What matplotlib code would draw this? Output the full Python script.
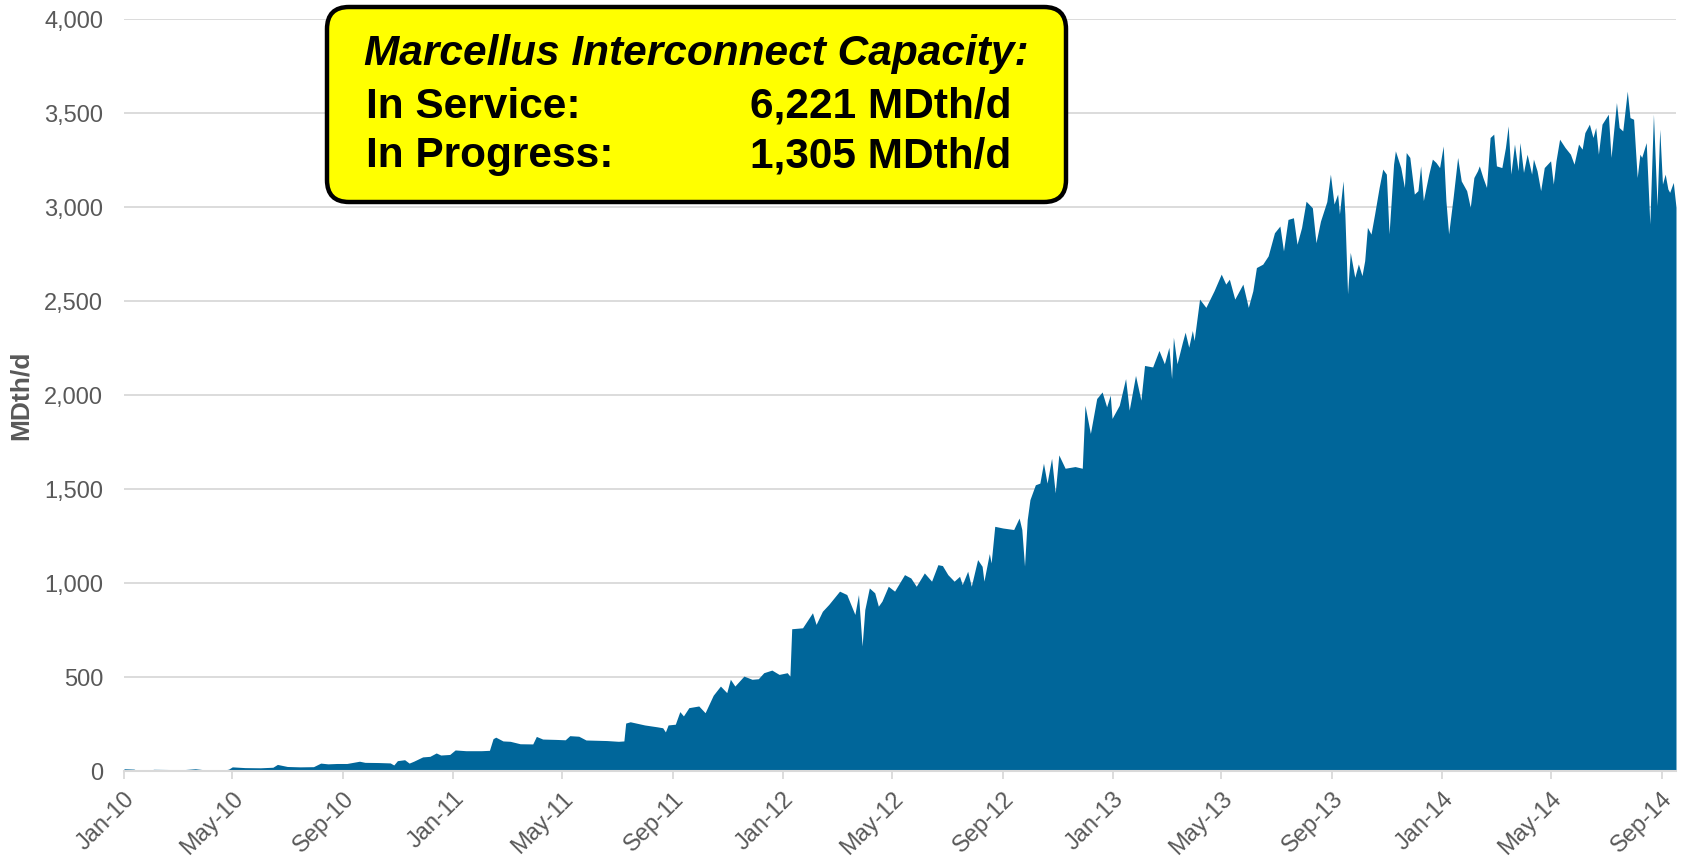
import matplotlib
matplotlib.use("Agg")
import matplotlib.pyplot as plt
import matplotlib.dates as mdates
from matplotlib.patches import FancyBboxPatch
from matplotlib.transforms import IdentityTransform
from matplotlib.ticker import FuncFormatter
import pandas as pd

plt.rcParams['font.family'] = ['Liberation Sans', 'DejaVu Sans']

dates = [
    "2010-01-01", "2010-01-12", "2010-01-16", "2010-01-28", "2010-02-03", "2010-02-20", "2010-03-10",
    "2010-03-21", "2010-04-01", "2010-04-10", "2010-04-20", "2010-04-27", "2010-05-01", "2010-05-15",
    "2010-06-01", "2010-06-15", "2010-06-20", "2010-07-01", "2010-07-15", "2010-07-30", "2010-08-07",
    "2010-08-15", "2010-08-25", "2010-09-05", "2010-09-19", "2010-09-25", "2010-10-10", "2010-10-23",
    "2010-10-27", "2010-10-31", "2010-11-08", "2010-11-13", "2010-11-18", "2010-11-28", "2010-12-06",
    "2010-12-13", "2010-12-18", "2010-12-28", "2011-01-03", "2011-01-15", "2011-02-01", "2011-02-10",
    "2011-02-14", "2011-02-17", "2011-02-25", "2011-03-05", "2011-03-16", "2011-03-30", "2011-04-03",
    "2011-04-10", "2011-04-25", "2011-05-05", "2011-05-10", "2011-05-20", "2011-05-28", "2011-06-20",
    "2011-07-03", "2011-07-09", "2011-07-11", "2011-07-16", "2011-08-01", "2011-08-15", "2011-08-21",
    "2011-08-24", "2011-08-27", "2011-09-04", "2011-09-09", "2011-09-13", "2011-09-19", "2011-09-30",
    "2011-10-07", "2011-10-16", "2011-10-24", "2011-10-31", "2011-11-04", "2011-11-09", "2011-11-19",
    "2011-11-28", "2011-12-05", "2011-12-11", "2011-12-20", "2011-12-28", "2012-01-06", "2012-01-09",
    "2012-01-11", "2012-01-23", "2012-02-03", "2012-02-07", "2012-02-14", "2012-02-21", "2012-03-04",
    "2012-03-12", "2012-03-21", "2012-03-25", "2012-03-29", "2012-04-01", "2012-04-06", "2012-04-12",
    "2012-04-16", "2012-04-20", "2012-04-27", "2012-05-04", "2012-05-15", "2012-05-22", "2012-05-28",
    "2012-06-06", "2012-06-14", "2012-06-21", "2012-06-26", "2012-07-02", "2012-07-09", "2012-07-15",
    "2012-07-18", "2012-07-24", "2012-07-28", "2012-08-04", "2012-08-09", "2012-08-11", "2012-08-17",
    "2012-08-19", "2012-08-23", "2012-09-01", "2012-09-13", "2012-09-19", "2012-09-22", "2012-09-25",
    "2012-09-28", "2012-10-01", "2012-10-07", "2012-10-12", "2012-10-16", "2012-10-20", "2012-10-25",
    "2012-10-29", "2012-11-02", "2012-11-09", "2012-11-20", "2012-11-28", "2012-12-01", "2012-12-07",
    "2012-12-14", "2012-12-20", "2012-12-25", "2012-12-29", "2012-12-31", "2013-01-08", "2013-01-15",
    "2013-01-19", "2013-01-26", "2013-02-01", "2013-02-05", "2013-02-14", "2013-02-21", "2013-02-27",
    "2013-03-04", "2013-03-07", "2013-03-09", "2013-03-13", "2013-03-19", "2013-03-22", "2013-03-26",
    "2013-03-30", "2013-04-01", "2013-04-07", "2013-04-14", "2013-04-23", "2013-05-01", "2013-05-06",
    "2013-05-10", "2013-05-16", "2013-05-25", "2013-05-31", "2013-06-05", "2013-06-09", "2013-06-16",
    "2013-06-22", "2013-06-29", "2013-07-05", "2013-07-09", "2013-07-14", "2013-07-20", "2013-07-24",
    "2013-07-29", "2013-08-03", "2013-08-10", "2013-08-14", "2013-08-19", "2013-08-26", "2013-08-30",
    "2013-09-03", "2013-09-07", "2013-09-09", "2013-09-13", "2013-09-15", "2013-09-18", "2013-09-21",
    "2013-09-26", "2013-09-30", "2013-10-04", "2013-10-07", "2013-10-10", "2013-10-14", "2013-10-18",
    "2013-10-23", "2013-10-27", "2013-10-31", "2013-11-03", "2013-11-08", "2013-11-10", "2013-11-16",
    "2013-11-20", "2013-11-22", "2013-11-26", "2013-12-01", "2013-12-05", "2013-12-08", "2013-12-11",
    "2013-12-17", "2013-12-21", "2013-12-25", "2013-12-29", "2014-01-02", "2014-01-05", "2014-01-08",
    "2014-01-13", "2014-01-18", "2014-01-22", "2014-01-28", "2014-02-01", "2014-02-05", "2014-02-09",
    "2014-02-11", "2014-02-15", "2014-02-19", "2014-02-23", "2014-02-27", "2014-03-02", "2014-03-08",
    "2014-03-12", "2014-03-15", "2014-03-18", "2014-03-22", "2014-03-26", "2014-03-28", "2014-04-01",
    "2014-04-05", "2014-04-10", "2014-04-12", "2014-04-16", "2014-04-20", "2014-04-24", "2014-05-01",
    "2014-05-04", "2014-05-07", "2014-05-11", "2014-05-17", "2014-05-23", "2014-05-27", "2014-06-01",
    "2014-06-05", "2014-06-08", "2014-06-13", "2014-06-17", "2014-06-20", "2014-06-23", "2014-06-27",
    "2014-07-04", "2014-07-07", "2014-07-13", "2014-07-16", "2014-07-20", "2014-07-25", "2014-07-28",
    "2014-08-01", "2014-08-05", "2014-08-08", "2014-08-10", "2014-08-15", "2014-08-19", "2014-08-23",
    "2014-08-27", "2014-08-30", "2014-09-02", "2014-09-05", "2014-09-08", "2014-09-10", "2014-09-14",
    "2014-09-17",
]

values = [
    12, 10, 2, 3, 9, 8, 8,
    12, 6, 2, 3, 10, 22, 18,
    17, 20, 35, 24, 22, 23, 42,
    38, 40, 40, 52, 46, 45, 43,
    32, 55, 60, 42, 52, 75, 78,
    96, 85, 88, 112, 108, 108, 110,
    172, 180, 160, 158, 145, 144, 184,
    170, 168, 166, 188, 185, 165, 162,
    158, 160, 255, 262, 245, 235, 230,
    208, 245, 249, 316, 293, 337, 346,
    310, 403, 452, 417, 488, 452, 505,
    488, 491, 523, 537, 514, 523, 505,
    757, 762, 842, 780, 850, 886, 957,
    939, 833, 939, 665, 859, 974, 948,
    877, 904, 983, 957, 1045, 1027, 983,
    1054, 1010, 1098, 1093, 1045, 1010, 1036,
    992, 1063, 983, 1125, 1089, 1010, 1157,
    1107, 1302, 1293, 1285, 1346, 1285, 1090,
    1338, 1444, 1523, 1532, 1638, 1532, 1664,
    1480, 1682, 1611, 1620, 1611, 1946, 1796,
    1982, 2017, 1938, 2000, 1876, 1946, 2088,
    1920, 2105, 1973, 2158, 2150, 2238, 2167,
    2255, 2088, 2308, 2167, 2282, 2335, 2255,
    2344, 2291, 2511, 2467, 2555, 2644, 2591,
    2617, 2511, 2591, 2467, 2555, 2679, 2697,
    2741, 2864, 2900, 2767, 2935, 2944, 2803,
    2891, 3032, 2997, 2811, 2926, 3030, 3176,
    3017, 3070, 2964, 3140, 2964, 2539, 2760,
    2627, 2698, 2636, 2716, 2893, 2857, 2964,
    3105, 3203, 3176, 2858, 3229, 3300, 3211,
    3105, 3291, 3265, 3070, 3088, 3220, 3035,
    3176, 3256, 3238, 3211, 3326, 3035, 2858,
    3052, 3265, 3140, 3088, 3000, 3158, 3194,
    3220, 3158, 3105, 3371, 3389, 3220, 3211,
    3318, 3433, 3176, 3336, 3194, 3344, 3185,
    3282, 3176, 3256, 3194, 3088, 3211, 3247,
    3123, 3247, 3362, 3318, 3282, 3229, 3336,
    3309, 3397, 3442, 3371, 3424, 3282, 3442,
    3495, 3265, 3557, 3424, 3406, 3618, 3477,
    3468, 3158, 3282, 3265, 3344, 2911, 3495,
    3008, 3415, 3123, 3176, 3097, 3079, 3132,
    3000,
]

y_ticks = [0, 500, 1000, 1500, 2000, 2500, 3000, 3500, 4000]
x_tick_dates = ["2010-01-01", "2010-05-01", "2010-09-01", "2011-01-01", "2011-05-01",
                "2011-09-01", "2012-01-01", "2012-05-01", "2012-09-01", "2013-01-01",
                "2013-05-01", "2013-09-01", "2014-01-01", "2014-05-01", "2014-09-01"]
y_label = "MDth/d"
box_title = "Marcellus Interconnect Capacity:"
box_rows = [("In Service:", "6,221 MDth/d"), ("In Progress:", "1,305 MDth/d")]

W, H = 1685, 859
fig = plt.figure(figsize=(W / 100, H / 100), dpi=100)
ax = fig.add_axes([124 / W, (H - 771) / H, (1676 - 124) / W, (771 - 19.3) / H])

d = pd.to_datetime(dates)
ax.fill_between(d, values, 0, color="#00669A", linewidth=0, zorder=3)

ax.set_ylim(0, 4000)
ax.set_xlim(pd.Timestamp("2010-01-01"), pd.Timestamp("2014-09-17"))
ax.set_yticks(y_ticks)
ax.yaxis.set_major_formatter(FuncFormatter(lambda v, p: f"{int(v):,}"))
ax.set_xticks(pd.to_datetime(x_tick_dates))
ax.xaxis.set_major_formatter(mdates.DateFormatter("%b-%y"))

grid_c = "#d9d9d9"
ax.grid(axis="y", color=grid_c, linewidth=1.3, zorder=1)
ax.set_axisbelow(True)
for s in ["top", "right", "left"]:
    ax.spines[s].set_visible(False)
ax.spines["bottom"].set_color(grid_c)
ax.spines["bottom"].set_linewidth(1.5)
ax.spines["bottom"].set_zorder(4)

lab_c = "#595959"
ax.tick_params(axis="y", length=0, pad=15, labelsize=17, labelcolor=lab_c)
ax.tick_params(axis="x", length=6, width=1.3, color=grid_c, pad=6, labelsize=17, labelcolor=lab_c)
for lbl in ax.get_xticklabels():
    lbl.set_rotation(45)
    lbl.set_ha("right")
    lbl.set_va("top")
    lbl.set_rotation_mode("anchor")

fig.text(21 / W, (H - 395) / H, y_label, rotation=90, ha="center", va="center",
         fontsize=19, fontweight="bold", color=lab_c)

# annotation box (pixel coordinates)
bx0, bx1, by0, by1 = 327, 1066, 7, 202
box = FancyBboxPatch((bx0, H - by1), bx1 - bx0, by1 - by0,
                     boxstyle="round,pad=0,rounding_size=22",
                     facecolor="#FFFF00", edgecolor="black", linewidth=3.2,
                     transform=IdentityTransform(), zorder=10)
fig.add_artist(box)

fs = 30.5
fig.text(364, H - 65, box_title, transform=IdentityTransform(), fontsize=fs,
         fontweight="bold", fontstyle="italic", va="baseline", ha="left", zorder=11)
for i, (lab, val) in enumerate(box_rows):
    yb = H - (118 + i * 49)
    fig.text(366, yb, lab, transform=IdentityTransform(), fontsize=fs,
             fontweight="bold", va="baseline", ha="left", zorder=11)
    fig.text(750, yb, val, transform=IdentityTransform(), fontsize=fs,
             fontweight="bold", va="baseline", ha="left", zorder=11)

fig.savefig("out.png", dpi=100)
